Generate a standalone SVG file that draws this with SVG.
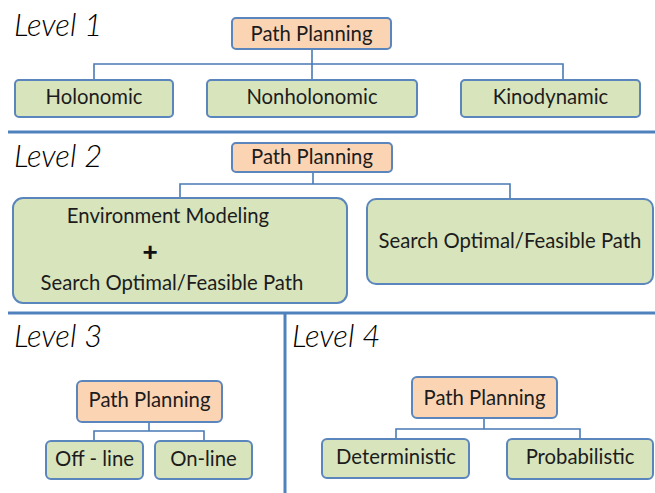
<svg xmlns="http://www.w3.org/2000/svg" width="655" height="493" viewBox="0 0 655 493">
  <style>
    .bg { fill: #ffffff; }
    .root { fill: #fbd4b4; stroke: #5a86bd; stroke-width: 2; }
    .leaf { fill: #d8e4bc; stroke: #5a86bd; stroke-width: 2; }
    .label { font-family: "Lato", "Liberation Sans", sans-serif; font-size: 20.3px; fill: #1c1c1c; text-anchor: middle; }
    .level { font-family: "Lato", "Liberation Sans", sans-serif; font-size: 31px; font-style: italic; font-weight: 300; fill: #000000; }
    .plus { font-family: "Liberation Sans", sans-serif; font-size: 26px; font-weight: bold; fill: #111111; text-anchor: middle; }
    .link { fill: none; stroke: #4a7ab5; stroke-width: 1.6; }
    .divider { fill: none; stroke: #4f81bd; stroke-width: 3; }
  </style>
  <rect class="bg" x="0" y="0" width="655" height="493"/>

  <!-- section dividers -->
  <g id="dividers">
    <line class="divider" x1="8" y1="132" x2="655" y2="132"/>
    <line class="divider" x1="8" y1="313" x2="655" y2="313"/>
    <line class="divider" x1="285" y1="313" x2="285" y2="493"/>
  </g>

  <!-- level headings -->
  <g id="headings">
    <text class="level" x="14" y="36">Level 1</text>
    <text class="level" x="14" y="167">Level 2</text>
    <text class="level" x="14" y="347">Level 3</text>
    <text class="level" x="292" y="347">Level 4</text>
  </g>

  <!-- tree connectors -->
  <g id="connectors">
    <path class="link" d="M312,49 V80 M94,80 V64 H563 V80"/>
    <path class="link" d="M313,172 V184 M180,198 V184 H510 V199"/>
    <path class="link" d="M149,422 V431 M94,441 V431 H204 V441"/>
    <path class="link" d="M484,418 V429 M396,439 V429 H580 V439"/>
  </g>

  <!-- level 1 -->
  <g id="l1-root">
    <rect class="root" x="232" y="18" width="159" height="31" rx="4"/>
    <text class="label" x="311.5" y="41">Path Planning</text>
  </g>
  <g id="l1-holonomic">
    <rect class="leaf" x="15" y="80" width="158" height="37" rx="4"/>
    <text class="label" x="94" y="104">Holonomic</text>
  </g>
  <g id="l1-nonholonomic">
    <rect class="leaf" x="207" y="80" width="210" height="37" rx="4"/>
    <text class="label" x="312" y="104">Nonholonomic</text>
  </g>
  <g id="l1-kinodynamic">
    <rect class="leaf" x="461" y="80" width="179" height="37" rx="4"/>
    <text class="label" x="550.5" y="104">Kinodynamic</text>
  </g>

  <!-- level 2 -->
  <g id="l2-root">
    <rect class="root" x="232" y="143" width="160" height="29" rx="4"/>
    <text class="label" x="312" y="164">Path Planning</text>
  </g>
  <g id="l2-modeling-search">
    <rect class="leaf" x="13" y="198" width="334" height="105" rx="10"/>
    <text class="label" x="168" y="223">Environment Modeling</text>
    <text class="plus" x="150" y="261">+</text>
    <text class="label" x="172" y="290">Search Optimal/Feasible Path</text>
  </g>
  <g id="l2-search">
    <rect class="leaf" x="367" y="199" width="286" height="85" rx="9"/>
    <text class="label" x="510" y="248">Search Optimal/Feasible Path</text>
  </g>

  <!-- level 3 -->
  <g id="l3-root">
    <rect class="root" x="77" y="381" width="145" height="41" rx="5"/>
    <text class="label" x="149.5" y="407">Path Planning</text>
  </g>
  <g id="l3-offline">
    <rect class="leaf" x="46" y="441" width="97" height="38" rx="5"/>
    <text class="label" x="94.5" y="466">Off - line</text>
  </g>
  <g id="l3-online">
    <rect class="leaf" x="155" y="441" width="97" height="38" rx="5"/>
    <text class="label" x="203.5" y="466">On-line</text>
  </g>

  <!-- level 4 -->
  <g id="l4-root">
    <rect class="root" x="412" y="377" width="145" height="41" rx="5"/>
    <text class="label" x="484.5" y="405">Path Planning</text>
  </g>
  <g id="l4-deterministic">
    <rect class="leaf" x="322" y="439" width="147" height="39" rx="5"/>
    <text class="label" x="396" y="464">Deterministic</text>
  </g>
  <g id="l4-probabilistic">
    <rect class="leaf" x="507" y="439" width="146" height="40" rx="5"/>
    <text class="label" x="580" y="464">Probabilistic</text>
  </g>
</svg>
